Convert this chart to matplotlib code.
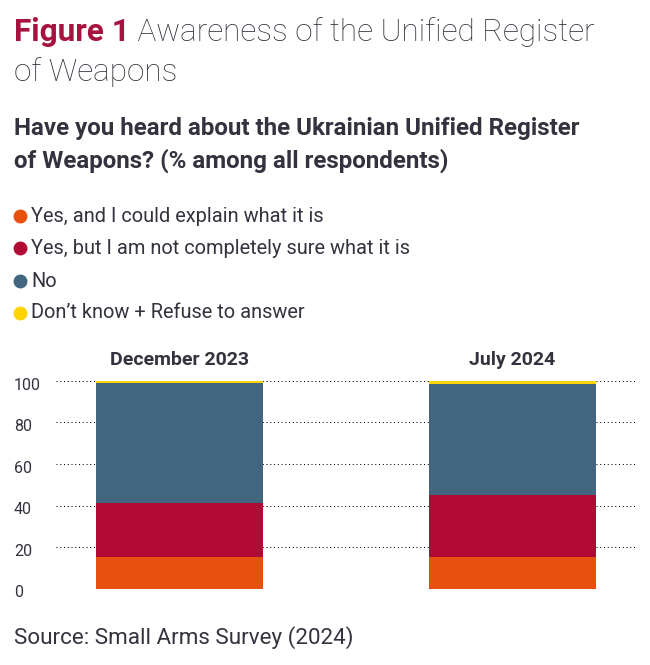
import matplotlib.pyplot as plt
from matplotlib.lines import Line2D

# Datos (% entre todos los encuestados)
periods = ['December 2023', 'July 2024']
answers = ['Yes, and I could explain what it is',
           'Yes, but I am not completely sure what it is',
           'No',
           'Don\u2019t know + Refuse to answer']
explain = [15, 15]
not_sure = [26, 30]
no = [58, 53.5]
dont_know = [1, 1.5]
colors = ['#E8500E', '#B10A35', '#436680', '#FFD500']

text_color = '#33333F'
plt.rcParams['font.family'] = ['Roboto', 'DejaVu Sans']

fig = plt.figure(figsize=(6.5, 6.65), dpi=100)
ax = fig.add_axes([0.0862, 0.1150, 0.8923, 0.3121])

series = [explain, not_sure, no, dont_know]
x = list(range(len(periods)))
bottom = [0, 0]
for vals, c in zip(series, colors):
    ax.bar(x, vals, bottom=bottom, width=0.503, color=c, zorder=2)
    bottom = [b + v for b, v in zip(bottom, vals)]

ax.set_xlim(-0.373, 1.373)
ax.set_ylim(0, 100)
ax.set_yticks(range(0, 101, 20))
ax.grid(axis='y', color='black', linestyle=(0, (1, 2.6)), linewidth=0.75, zorder=0)
ax.tick_params(left=False, bottom=False, labelleft=False, labelbottom=False)
for s in ax.spines.values():
    s.set_visible(False)

# Etiquetas del eje y alineadas a la izquierda
for t in range(0, 101, 20):
    ax.annotate(str(t), xy=(14 / 650, t), xycoords=('figure fraction', 'data'),
                xytext=(0, -3), textcoords='offset points',
                ha='left', va='center', fontsize=11.5, color=text_color)

# Etiquetas de categoría encima de las barras
for xi, p in zip(x, periods):
    ax.annotate(p, xy=(xi, 100), xytext=(0, 15), textcoords='offset points',
                ha='center', va='center', fontsize=14, fontweight='bold', color=text_color)

# Título
t1 = fig.text(14 / 650, 1 - 32 / 665, 'Figure 1', fontsize=22.7, fontweight='bold',
              color='#A8123E', va='center')
ax.annotate(' Awareness of the Unified Register', xy=(1, 0.5), xycoords=t1,
            ha='left', va='center', fontsize=22.7, fontweight='light', color=text_color)
fig.text(14 / 650, 1 - 72 / 665, 'of Weapons', fontsize=22.7, fontweight='light',
         color=text_color, va='center')

# Subtítulo
fig.text(14 / 650, 1 - 128 / 665, 'Have you heard about the Ukrainian Unified Register',
         fontsize=17.4, fontweight='bold', color=text_color, va='center')
fig.text(14 / 650, 1 - 161 / 665, 'of Weapons? (% among all respondents)',
         fontsize=17.4, fontweight='bold', color=text_color, va='center')

# Leyenda con círculos
rows_y = [216, 248, 281, 313]
for ans, c, yy in zip(answers, colors, rows_y):
    fig.add_artist(Line2D([20 / 650], [1 - yy / 665], transform=fig.transFigure,
                          marker='o', markersize=9, color=c, linestyle='none'))
    fig.text(31 / 650, 1 - yy / 665, ans, fontsize=14.4, color=text_color, va='center')

# Fuente
fig.text(14 / 650, 1 - 638 / 665, 'Source: Small Arms Survey (2024)',
         fontsize=16.1, color=text_color, va='center')

plt.savefig('out.png', dpi=100)
